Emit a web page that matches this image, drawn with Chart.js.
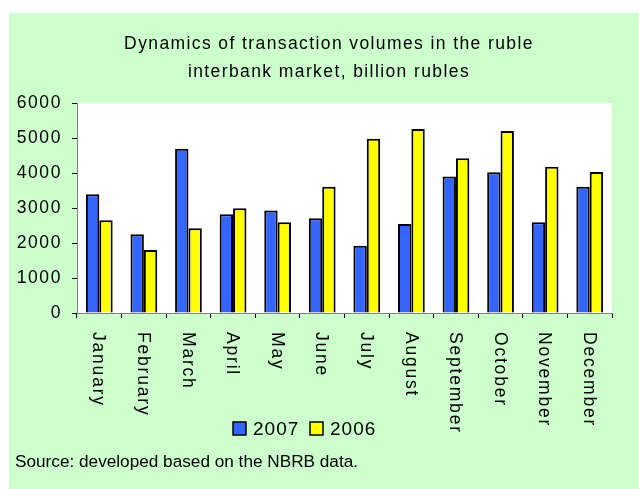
<!DOCTYPE html>
<html>
<head>
<meta charset="utf-8">
<script src="https://cdn.jsdelivr.net/npm/chart.js@4/dist/chart.umd.min.js"></script>
<style>
  html, body { margin: 0; padding: 0; background: #fff; width: 639px; height: 489px; overflow: hidden; }
  #chart { position: absolute; left: 9px; top: 13px; background: #ccffcc; }
</style>
</head>
<body>
<canvas id="chart" width="630" height="476"></canvas>
<script>
const months = ['January', 'February', 'March', 'April', 'May', 'June', 'July',
    'August', 'September', 'October', 'November', 'December'];
const vol2007 = [3390, 2250, 4690, 2820, 2930, 2710, 1920, 2540, 3900, 4020, 2590, 3610];
const vol2006 = [2650, 1800, 2420, 2990, 2590, 3610, 4980, 5260, 4420, 5200, 4180, 4030];
const yTicks = [0, 1000, 2000, 3000, 4000, 5000, 6000];
const titleLines = ['Dynamics of transaction volumes in the ruble', 'interbank market, billion rubles'];
const sourceNote = 'Source: developed based on the NBRB data.';

const FONT = '"Liberation Sans", Arial, sans-serif';
const BLUE = '#3366ff';
const YELLOW = '#ffff00';

// title, rotated month names, legend and source line
const decor = {
    id: 'decor',
    beforeDraw(chart) {
        const { ctx, chartArea: a } = chart;
        ctx.fillStyle = '#fff';
        ctx.fillRect(a.left, a.top, a.right - a.left, a.bottom - a.top);
        ctx.letterSpacing = '1.6px';
    },
    afterDraw(chart) {
        const ctx = chart.ctx;
        const x = chart.scales.x;
        ctx.save();
        ctx.fillStyle = '#000';

        ctx.font = '17.5px ' + FONT;
        ctx.letterSpacing = '1.4px';
        ctx.textAlign = 'center';
        ctx.textBaseline = 'alphabetic';
        ctx.fillText(titleLines[0], 320, 35.5);
        ctx.fillText(titleLines[1], 320, 63.5);

        ctx.letterSpacing = '1.8px';
        ctx.textAlign = 'left';
        ctx.textBaseline = 'middle';
        months.forEach((m, i) => {
            ctx.save();
            ctx.translate(x.getPixelForValue(i), 319);
            ctx.rotate(Math.PI / 2);
            ctx.fillText(m, 0, 1);
            ctx.restore();
        });

        // legend
        const items = [['2007', BLUE, 224], ['2006', YELLOW, 301]];
        ctx.letterSpacing = '1px';
        ctx.font = '19px ' + FONT;
        ctx.textBaseline = 'alphabetic';
        items.forEach(([label, color, bx]) => {
            ctx.fillStyle = color;
            ctx.fillRect(bx, 409, 13, 13);
            ctx.strokeStyle = '#000';
            ctx.lineWidth = 1.5;
            ctx.strokeRect(bx, 409, 13, 13);
            ctx.fillStyle = '#000';
            ctx.fillText(label, bx + 20, 422);
        });

        ctx.letterSpacing = '0px';
        ctx.font = '17.2px ' + FONT;
        ctx.fillText(sourceNote, 6, 454);
        ctx.restore();
    },
};

new Chart(document.getElementById('chart'), {
    type: 'bar',
    data: {
        labels: months,
        datasets: [
            {
                label: '2007',
                data: vol2007,
                backgroundColor: BLUE,
                borderColor: '#000',
                borderWidth: 2,
                categoryPercentage: 0.6,
                barPercentage: 1.0,
            },
            {
                label: '2006',
                data: vol2006,
                backgroundColor: YELLOW,
                borderColor: '#000',
                borderWidth: 2,
                categoryPercentage: 0.6,
                barPercentage: 1.0,
            },
        ],
    },
    options: {
        responsive: false,
        animation: false,
        layout: { padding: { left: 0, right: 27, top: 90, bottom: 171 } },
        plugins: {
            legend: { display: false },
            title: { display: false },
            tooltip: { enabled: false },
        },
        scales: {
            x: {
                ticks: { display: false },
                grid: {
                    offset: true,
                    drawOnChartArea: false,
                    drawTicks: true,
                    tickLength: 5,
                    color: '#000',
                },
                border: { color: '#808080', width: 1 },
                afterFit: (s) => { s.height = 5; },
            },
            y: {
                min: yTicks[0],
                max: yTicks[yTicks.length - 1],
                afterBuildTicks: (s) => { s.ticks = yTicks.map((v) => ({ value: v })); },
                ticks: {
                    color: '#000',
                    padding: 10,
                    font: { family: FONT, size: 17.5 },
                    callback: (v) => String(v),
                },
                grid: {
                    drawOnChartArea: false,
                    drawTicks: true,
                    tickLength: 5,
                    color: '#000',
                },
                border: { color: '#808080', width: 1 },
                afterFit: (s) => { s.width = 68; },
            },
        },
    },
    plugins: [decor],
});
</script>
</body>
</html>
